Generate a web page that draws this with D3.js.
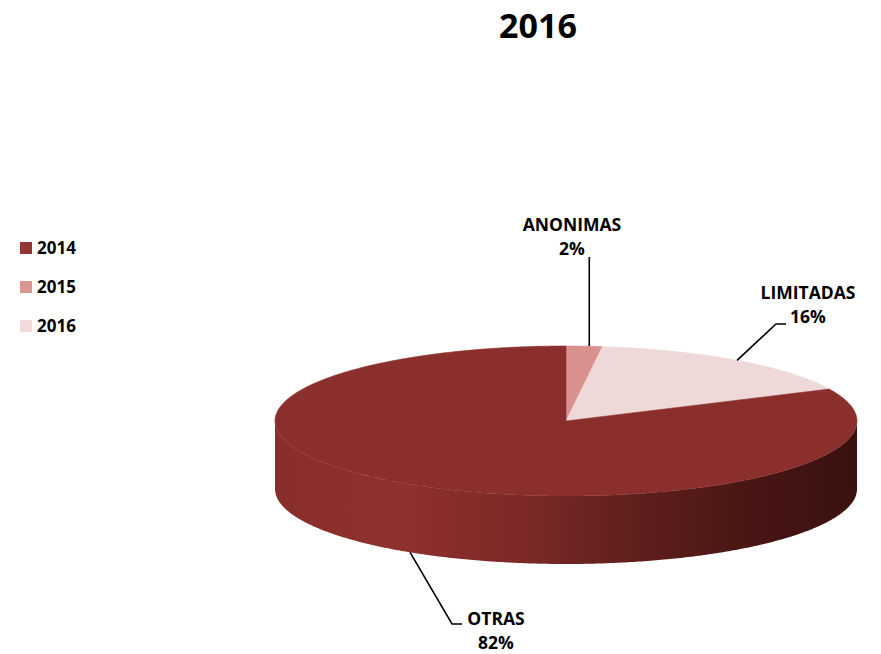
<!DOCTYPE html>
<html>
<head>
<meta charset="utf-8">
<script src="https://cdn.jsdelivr.net/npm/d3@7"></script>
<style>
  html, body { margin: 0; padding: 0; background: #fff; }
  svg text { font-family: "Open Sans", "Liberation Sans", sans-serif; font-weight: bold; fill: #000; }
</style>
</head>
<body>
<svg id="chart" width="881" height="654"></svg>
<script>
// Company types and their share of the total
const categories = ["ANONIMAS", "LIMITADAS", "OTRAS"];
const shares = [2, 16, 82];
const sliceColors = ["#d8918f", "#efd9d8", "#8b2f2d"];

// Legend entries
const legendLabels = ["2014", "2015", "2016"];
const legendColors = ["#943634", "#d99694", "#f2dcdb"];

const title = "2016";

const svg = d3.select("#chart");

// Tilted pie geometry
const cx = 566, cy = 421, rx = 291, ry = 75, depth = 68;
const sx = d3.scaleLinear().domain([-1, 1]).range([cx - rx, cx + rx]);
const sy = d3.scaleLinear().domain([-1, 1]).range([cy - ry, cy + ry]);
// angle measured clockwise from 12 o'clock
const px = a => sx(Math.sin(a));
const py = a => sy(-Math.cos(a));

const pie = d3.pie().sort(null).value(d => d)(shares);

const defs = svg.append("defs");
const sideGrad = defs.append("linearGradient")
  .attr("id", "sideGrad").attr("gradientUnits", "userSpaceOnUse")
  .attr("x1", cx - rx).attr("x2", cx + rx).attr("y1", 0).attr("y2", 0);
[[0, "#8a2e2c"], [0.22, "#8e302e"], [0.42, "#7d2a28"], [0.6, "#62201e"],
 [0.8, "#4a1715"], [1, "#3a110f"]].forEach(([o, c]) =>
  sideGrad.append("stop").attr("offset", o).attr("stop-color", c));

function arcPoints(a0, a1, dy) {
  const n = Math.max(2, Math.ceil(Math.abs(a1 - a0) / 0.01));
  return d3.range(n + 1).map(i => {
    const a = a0 + (a1 - a0) * i / n;
    return [px(a), py(a) + dy];
  });
}
const line = d3.line();

// Front wall: visible part of the outer rim (between 3 and 9 o'clock),
// taken up to the centre line so no seam shows under the top face
pie.forEach((d, i) => {
  const a0 = Math.max(d.startAngle, Math.PI / 2);
  const a1 = Math.min(d.endAngle, 3 * Math.PI / 2);
  if (a1 <= a0) return;
  const pts = [[px(a0), cy]].concat(arcPoints(a0, a1, 0), arcPoints(a1, a0, depth));
  svg.append("path")
    .attr("d", line(pts) + "Z")
    .attr("fill", i === 2 ? "url(#sideGrad)" : d3.color(sliceColors[i]).darker(0.8));
});

// Top faces
pie.forEach((d, i) => {
  const pts = [[cx, cy]].concat(arcPoints(d.startAngle, d.endAngle, 0));
  svg.append("path")
    .attr("d", line(pts) + "Z")
    .attr("fill", sliceColors[i])
    .attr("stroke", sliceColors[i]).attr("stroke-width", 0.6);
});

// Leader lines and labels
const labelLayout = [
  { dx: 5, top: 257, lx: 572, ly: 231 },
  { bend: [776, 324], end: [786, 324], lx: 808, ly: 299 },
  { bend: [452, 624], end: [462, 624], lx: 496, ly: 625 }
];
pie.forEach((d, i) => {
  const mid = (d.startAngle + d.endAngle) / 2;
  const front = Math.cos(mid) < 0;
  const start = [px(mid), py(mid) + (front ? depth : 0)];
  const L = labelLayout[i];
  const pts = L.bend ? [start, L.bend, L.end]
                     : [[start[0] + L.dx, start[1]], [start[0] + L.dx, L.top]];
  svg.append("path").attr("d", line(pts))
    .attr("fill", "none").attr("stroke", "#000").attr("stroke-width", 1.6);
  const t = svg.append("text").attr("text-anchor", "middle").attr("font-size", 17.5);
  t.append("tspan").attr("x", L.lx).attr("y", L.ly).text(categories[i]);
  t.append("tspan").attr("x", L.lx).attr("y", L.ly + 24).text(d.data + "%");
});

// Title
svg.append("text").attr("x", 538).attr("y", 38).attr("text-anchor", "middle")
  .attr("font-size", 34).text(title);

// Legend
const leg = svg.append("g");
legendLabels.forEach((lab, i) => {
  const y = 242 + i * 39;
  leg.append("rect").attr("x", 20).attr("y", y).attr("width", 12).attr("height", 12)
    .attr("fill", legendColors[i]);
  leg.append("text").attr("x", 37).attr("y", y + 12).attr("font-size", 17).text(lab);
});
</script>
</body>
</html>
